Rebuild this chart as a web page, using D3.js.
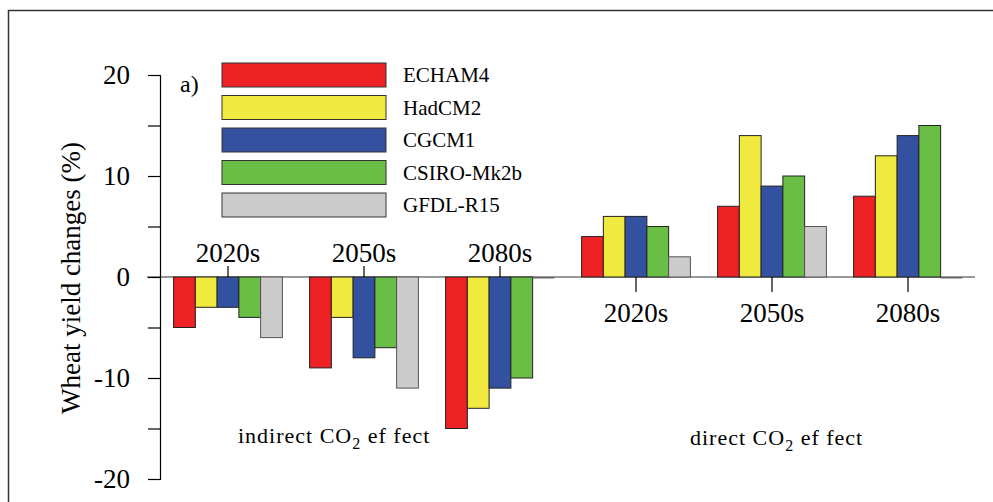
<!DOCTYPE html>
<html>
<head>
<meta charset="utf-8">
<script src="https://cdn.jsdelivr.net/npm/d3@7"></script>
<style>
  body { margin: 0; background: #fff; }
  text { font-family: "Liberation Serif", "Times New Roman", serif; fill: #000; }
</style>
</head>
<body>
<script>
const models = ["ECHAM4", "HadCM2", "CGCM1", "CSIRO-Mk2b", "GFDL-R15"];
const colors = ["#ee2224", "#f0e93f", "#3450a0", "#6abd45", "#cccccc"];
const periods = ["2020s", "2050s", "2080s"];
const categories = ["ind2020", "ind2050", "ind2080", "dir2020", "dir2050", "dir2080"];
const categoryLabels = ["2020s", "2050s", "2080s", "2020s", "2050s", "2080s"];

// yield change (%) per model, one value per category
const ECHAM4 = [-5, -9, -15, 4, 7, 8];
const HadCM2 = [-3, -4, -13, 6, 14, 12];
const CGCM1 = [-3, -8, -11, 6, 9, 14];
const CSIRO = [-4, -7, -10, 5, 10, 15];
const GFDL = [-6, -11, 0, 2, 5, 0];
const seriesValues = [ECHAM4, HadCM2, CGCM1, CSIRO, GFDL];

const yTicks = [-20, -15, -10, -5, 0, 5, 10, 15, 20];
const yLabels = [-20, -10, 0, 10, 20];

const width = 993, height = 502;
const serif = "'Liberation Serif', 'Times New Roman', serif";

const svg = d3.select("body").append("svg")
  .attr("width", width)
  .attr("height", height);

svg.append("rect")
  .attr("width", "100%")
  .attr("height", "100%")
  .attr("fill", "white");

// outer frame (runs off the right and bottom edges)
svg.append("rect")
  .attr("x", 8.5).attr("y", 10.5)
  .attr("width", 1200).attr("height", 700)
  .attr("fill", "none")
  .attr("stroke", "#333")
  .attr("stroke-width", 1.5);

const y = d3.scaleLinear().domain([-20, 20]).range([479, 75]);

const x0 = d3.scaleBand()
  .domain(categories)
  .range([160, 976])
  .paddingInner(0.2)
  .paddingOuter(0.1);

const x1 = d3.scaleBand()
  .domain(models)
  .range([0, x0.bandwidth()]);

// zero line
svg.append("line")
  .attr("x1", 147).attr("x2", 975)
  .attr("y1", y(0)).attr("y2", y(0))
  .attr("stroke", "#777")
  .attr("stroke-width", 1.5);

// bars
const rows = [];
categories.forEach((c, i) => {
  models.forEach((m, j) => {
    rows.push({ cat: c, model: m, color: colors[j], value: seriesValues[j][i] });
  });
});

svg.append("g").selectAll("rect")
  .data(rows)
  .join("rect")
  .attr("x", d => x0(d.cat) + x1(d.model))
  .attr("y", d => Math.min(y(d.value), y(0)))
  .attr("width", x1.bandwidth())
  .attr("height", d => Math.max(1.5, Math.abs(y(d.value) - y(0))))
  .attr("fill", d => d.value === 0 ? "#666" : d.color)
  .attr("stroke", d => d.model === "GFDL-R15" ? "#555" : "#222")
  .attr("stroke-width", d => d.value === 0 ? 0 : 1);

// y axis
const yAxis = svg.append("g")
  .attr("transform", "translate(160,0)")
  .call(d3.axisLeft(y)
    .tickValues(yTicks)
    .tickSize(12)
    .tickPadding(18)
    .tickFormat(d => yLabels.includes(d) ? String(d) : ""));
yAxis.select(".domain").attr("stroke", "#000").attr("stroke-width", 1.2);
yAxis.selectAll(".tick line").attr("stroke", "#000").attr("stroke-width", 1.2);
yAxis.selectAll("text")
  .style("font-family", serif)
  .style("font-size", "27px")
  .attr("fill", "#000");

const labelOf = d => categoryLabels[categories.indexOf(d)];

// indirect period labels above the zero line
const topAxis = svg.append("g")
  .attr("transform", `translate(0,${y(0)})`)
  .call(d3.axisTop(x0)
    .tickValues(categories.slice(0, 3))
    .tickSize(11)
    .tickPadding(4)
    .tickFormat(labelOf));
// direct period labels below the zero line
const bottomAxis = svg.append("g")
  .attr("transform", `translate(0,${y(0)})`)
  .call(d3.axisBottom(x0)
    .tickValues(categories.slice(3))
    .tickSize(15)
    .tickPadding(11)
    .tickFormat(labelOf));
[topAxis, bottomAxis].forEach(a => {
  a.select(".domain").remove();
  a.selectAll(".tick line").attr("stroke", "#000").attr("stroke-width", 1.2);
  a.selectAll("text")
    .style("font-family", serif)
    .style("font-size", "27px")
    .attr("fill", "#000");
});

// y axis title
svg.append("text")
  .attr("transform", "translate(80,278) rotate(-90)")
  .attr("text-anchor", "middle")
  .style("font-family", serif)
  .style("font-size", "27px")
  .text("Wheat yield changes (%)");

svg.append("text")
  .attr("x", 180).attr("y", 92)
  .style("font-family", serif)
  .style("font-size", "24px")
  .text("a)");

// legend
const legend = svg.append("g").selectAll("g")
  .data(models)
  .join("g")
  .attr("transform", (d, i) => `translate(222,${63 + i * 32.5})`);
legend.append("rect")
  .attr("width", 164).attr("height", 24)
  .attr("fill", (d, i) => colors[i])
  .attr("stroke", "#333")
  .attr("stroke-width", 1);
legend.append("text")
  .attr("x", 181).attr("y", 19)
  .style("font-family", serif)
  .style("font-size", "21px")
  .text(d => d);

// effect labels
function effectLabel(xPos, yPos, prefix) {
  const t = svg.append("text")
    .attr("x", xPos).attr("y", yPos)
    .style("font-family", serif)
    .style("font-size", "22px")
    .style("letter-spacing", "1px");
  t.append("tspan").text(prefix + " CO");
  t.append("tspan").attr("dy", 6).style("font-size", "16px").text("2");
  t.append("tspan").attr("dy", -6).text(" ef fect");
}
effectLabel(238, 443, "indirect");
effectLabel(690, 445, "direct");
</script>
</body>
</html>
